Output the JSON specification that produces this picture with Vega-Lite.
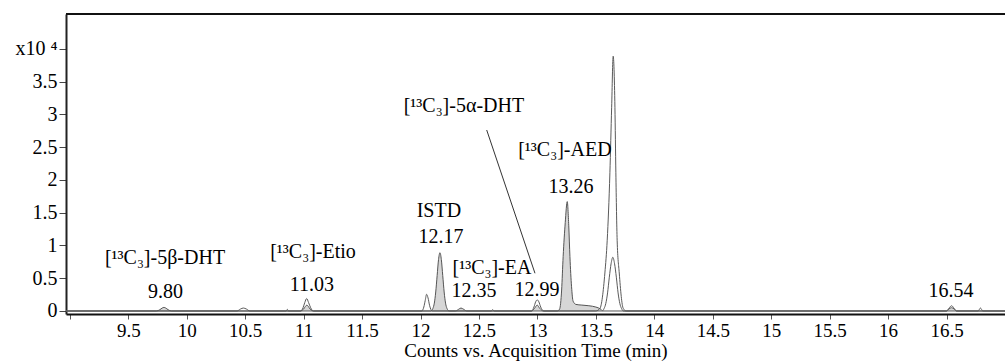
{
  "$schema": "https://vega.github.io/schema/vega-lite/v6.json",
  "width": 939,
  "height": 300,
  "autosize": {"type": "none"},
  "padding": {"left": 66, "top": 14, "right": 0, "bottom": 48},
  "config": {"font": "Liberation Serif", "view": {"stroke": null},
    "axisX": {"grid": false, "domainColor": "#111", "domainWidth": 2, "tickColor": "#555", "tickSize": 5, "tickWidth": 1,
      "labelPadding": 2, "labelFontSize": 19, "labelColor": "black", "labelFlush": false, "labelOverlap": false,
      "titleFontSize": 19, "titleFontWeight": "normal", "titleColor": "black", "titlePadding": 1, "titleFont": "Liberation Serif", "labelFont": "Liberation Serif"},
    "axisY": {"grid": false, "domainColor": "#222", "domainWidth": 2, "tickColor": "#444", "tickSize": 7, "tickWidth": 1,
      "labelPadding": 2, "labelFontSize": 20, "labelColor": "black", "labelOverlap": false, "labelFlush": false, "labelFont": "Liberation Serif"}
  },
  "datasets": {
    "A": [{"t":8.967,"v":0},{"t":9.74,"v":0},{"t":9.77,"v":0.02},{"t":9.79,"v":0.045},{"t":9.805,"v":0.055},{"t":9.82,"v":0.045},{"t":9.84,"v":0.02},{"t":9.87,"v":0},
      {"t":10.97,"v":0},{"t":11.0,"v":0.03},{"t":11.015,"v":0.07},{"t":11.028,"v":0.09},{"t":11.04,"v":0.07},{"t":11.055,"v":0.03},{"t":11.085,"v":0},
      {"t":12.09,"v":0},{"t":12.106,"v":0.04},{"t":12.118,"v":0.12},{"t":12.13,"v":0.29},{"t":12.142,"v":0.54},{"t":12.154,"v":0.785},{"t":12.166,"v":0.89},{"t":12.178,"v":0.785},{"t":12.19,"v":0.54},{"t":12.202,"v":0.29},{"t":12.214,"v":0.12},{"t":12.226,"v":0.04},{"t":12.245,"v":0},
      {"t":12.30,"v":0},{"t":12.325,"v":0.025},{"t":12.346,"v":0.045},{"t":12.37,"v":0.025},{"t":12.395,"v":0},
      {"t":12.95,"v":0},{"t":12.975,"v":0.04},{"t":12.998,"v":0.09},{"t":13.02,"v":0.04},{"t":13.05,"v":0},
      {"t":13.17,"v":0},{"t":13.19,"v":0.03},{"t":13.207,"v":0.32},{"t":13.22,"v":0.83},{"t":13.238,"v":1.35},{"t":13.255,"v":1.67},{"t":13.268,"v":1.3},{"t":13.278,"v":0.83},{"t":13.292,"v":0.37},{"t":13.305,"v":0.15},{"t":13.33,"v":0.1},{"t":13.38,"v":0.09},{"t":13.44,"v":0.08},{"t":13.5,"v":0.06},{"t":13.54,"v":0.03},{"t":13.56,"v":0},
      {"t":16.50,"v":0},{"t":16.52,"v":0.03},{"t":16.543,"v":0.05},{"t":16.565,"v":0.03},{"t":16.585,"v":0},
      {"t":17,"v":0}],
    "B": [{"t":8.967,"v":0},{"t":10.43,"v":0},{"t":10.46,"v":0.03},{"t":10.484,"v":0.045},{"t":10.51,"v":0.03},{"t":10.54,"v":0},
      {"t":10.85,"v":0},{"t":10.86,"v":0.025},{"t":10.87,"v":0},
      {"t":10.975,"v":0},{"t":10.995,"v":0.05},{"t":11.01,"v":0.13},{"t":11.026,"v":0.19},{"t":11.042,"v":0.13},{"t":11.06,"v":0.05},{"t":11.082,"v":0},
      {"t":12.01,"v":0},{"t":12.028,"v":0.06},{"t":12.04,"v":0.16},{"t":12.052,"v":0.255},{"t":12.064,"v":0.2},{"t":12.078,"v":0.08},{"t":12.1,"v":0},
      {"t":12.605,"v":0},{"t":12.617,"v":0.02},{"t":12.63,"v":0},
      {"t":12.95,"v":0},{"t":12.97,"v":0.06},{"t":12.985,"v":0.14},{"t":12.998,"v":0.17},{"t":13.012,"v":0.14},{"t":13.028,"v":0.06},{"t":13.055,"v":0},
      {"t":13.50,"v":0},{"t":13.535,"v":0.04},{"t":13.577,"v":0.58},{"t":13.597,"v":1.08},{"t":13.62,"v":2.11},{"t":13.635,"v":3.11},{"t":13.648,"v":3.89},{"t":13.663,"v":3.11},{"t":13.671,"v":2.11},{"t":13.682,"v":1.08},{"t":13.70,"v":0.58},{"t":13.734,"v":0.04},{"t":13.76,"v":0},
      {"t":16.50,"v":0},{"t":16.52,"v":0.04},{"t":16.543,"v":0.08},{"t":16.565,"v":0.04},{"t":16.585,"v":0},
      {"t":16.77,"v":0},{"t":16.79,"v":0.045},{"t":16.81,"v":0},
      {"t":17,"v":0}],
    "C": [{"t":8.967,"v":0},{"t":13.555,"v":0},{"t":13.57,"v":0.037},{"t":13.585,"v":0.115},{"t":13.60,"v":0.276},{"t":13.615,"v":0.516},{"t":13.63,"v":0.72},{"t":13.645,"v":0.82},{"t":13.66,"v":0.72},{"t":13.675,"v":0.516},{"t":13.69,"v":0.276},{"t":13.705,"v":0.115},{"t":13.72,"v":0.037},{"t":13.735,"v":0},{"t":17,"v":0}],
    "labels": [
      {"t":9.814,"v":0.809,"label":"[¹³C₃]-5β-DHT"},
      {"t":9.818,"v":0.29,"label":"9.80"},
      {"t":11.08,"v":0.90,"label":"[¹³C₃]-Etio"},
      {"t":11.071,"v":0.397,"label":"11.03"},
      {"t":12.157,"v":1.527,"label":"ISTD"},
      {"t":12.175,"v":1.13,"label":"12.17"},
      {"t":12.611,"v":0.656,"label":"[¹³C₃]-EA"},
      {"t":12.457,"v":0.305,"label":"12.35"},
      {"t":12.996,"v":0.32,"label":"12.99"},
      {"t":13.287,"v":1.893,"label":"13.26"},
      {"t":13.235,"v":2.458,"label":"[¹³C₃]-AED"},
      {"t":12.371,"v":3.13,"label":"[¹³C₃]-5α-DHT"},
      {"t":16.537,"v":0.305,"label":"16.54"}
    ],
    "leader": [{"t":12.566,"v":2.763,"t2":12.979,"v2":0.576}]
  },
  "encoding": {
    "x": {"field": "t", "type": "quantitative", "title": "Counts vs. Acquisition Time (min)",
      "scale": {"domain": [8.967, 17], "nice": false, "zero": false},
      "axis": {"values": [9,9.5,10,10.5,11,11.5,12,12.5,13,13.5,14,14.5,15,15.5,16,16.5,17], "format": "~g",
        "labelExpr": "(datum.value < 9.2 || datum.value > 16.8) ? '' : datum.label"}},
    "y": {"field": "v", "type": "quantitative", "title": null,
      "scale": {"domain": [-0.046, 4.534], "nice": false, "zero": false},
      "axis": {"values": [0,0.5,1,1.5,2,2.5,3,3.5,4], "format": "~g",
        "labelExpr": "datum.value == 4 ? 'x10 ⁴' : datum.label"}}
  },
  "layer": [
    {
      "data": {"name": "A"},
      "mark": {"type": "area", "interpolate": "monotone", "color": "#d6d6d6", "clip": true}
    },
    {
      "data": {"name": "A"},
      "mark": {"type": "line", "interpolate": "monotone", "color": "#555", "strokeWidth": 1, "clip": true}
    },
    {
      "data": {"name": "B"},
      "mark": {"type": "line", "interpolate": "monotone", "color": "#5a5a5a", "strokeWidth": 1, "clip": true}
    },
    {
      "data": {"name": "C"},
      "mark": {"type": "line", "interpolate": "monotone", "color": "#5a5a5a", "strokeWidth": 1, "clip": true}
    },
    {
      "data": {"name": "leader"},
      "mark": {"type": "rule", "color": "#333", "strokeWidth": 1},
      "encoding": {
        "x2": {"field": "t2"},
        "y2": {"field": "v2"}
      }
    },
    {
      "data": {"name": "labels"},
      "mark": {"type": "text", "font": "Liberation Serif", "fontSize": 20, "color": "black", "align": "center", "baseline": "middle"},
      "encoding": {
        "text": {"field": "label"}
      }
    },
    {
      "data": {"name": "leader"},
      "mark": {"type": "rule", "color": "#111", "strokeWidth": 2, "clip": false},
      "encoding": {
        "x": {"datum": 8.967, "type": "quantitative"},
        "x2": {"datum": 17},
        "y": {"datum": 4.534, "type": "quantitative"}
      }
    }
  ]
}
